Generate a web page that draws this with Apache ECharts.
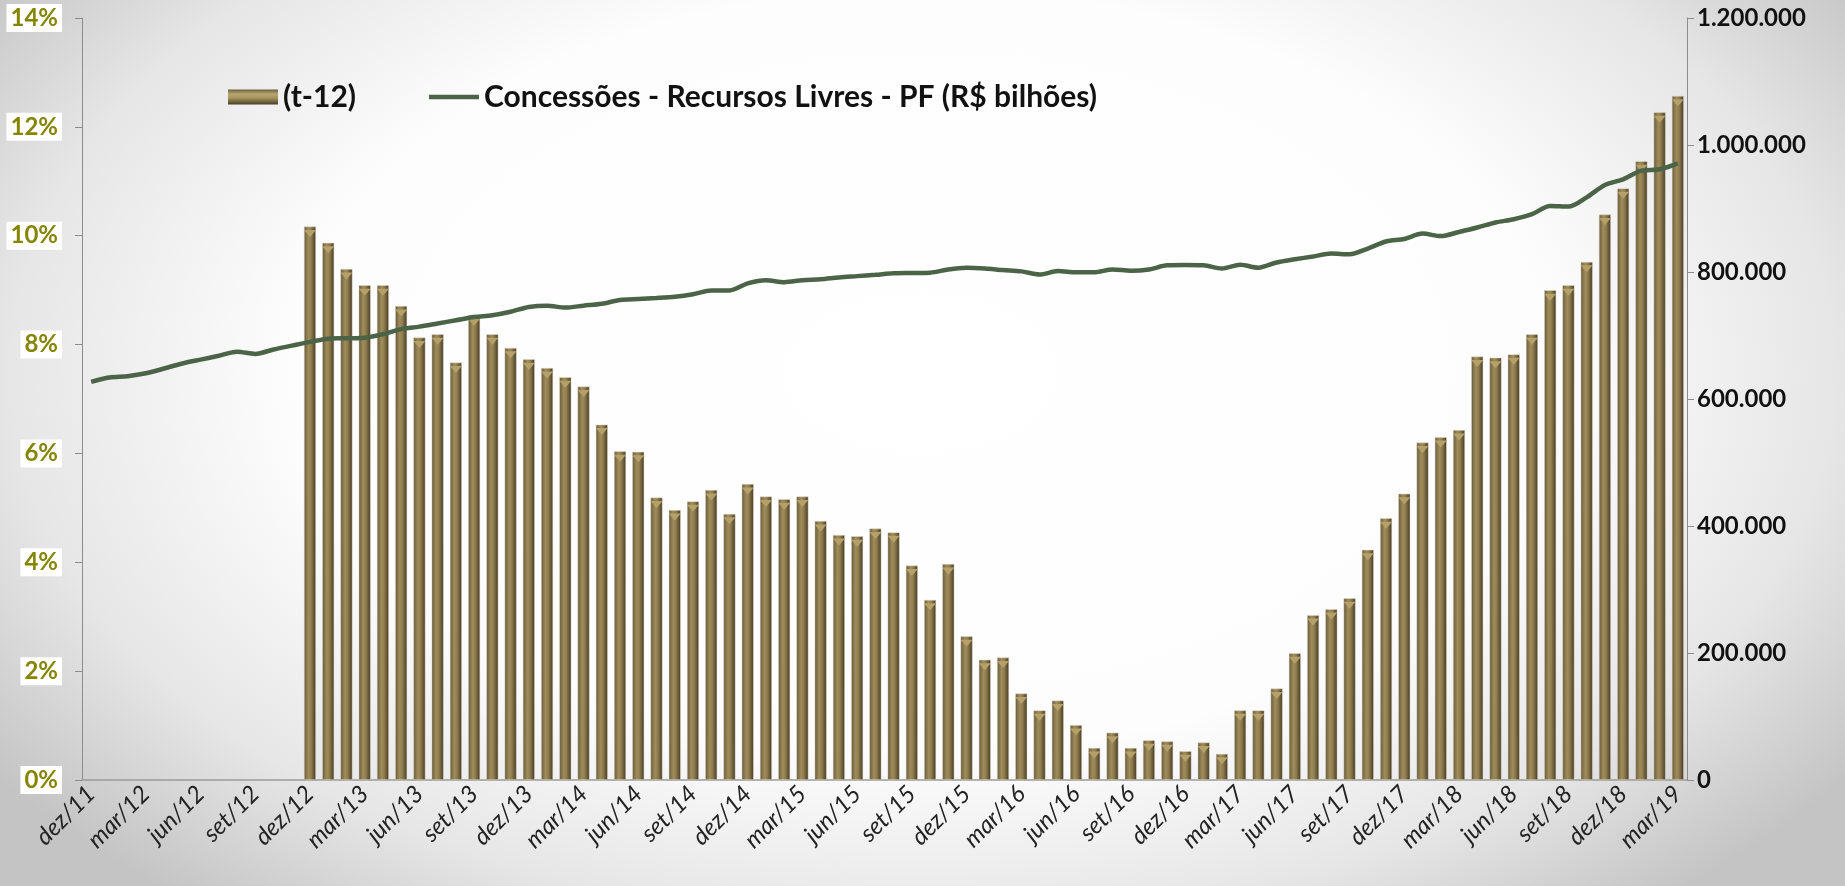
<!DOCTYPE html>
<html>
<head>
<meta charset="utf-8">
<title>Concessões - Recursos Livres - PF</title>
<script src="https://cdn.jsdelivr.net/npm/echarts@6/dist/echarts.min.js"></script>
<style>
  html, body {
    margin: 0;
    padding: 0;
    width: 100%;
    height: 100%;
    overflow: hidden;
  }
  body {
    background: radial-gradient(ellipse 62% 78% at 50% 42%, #ffffff 0%, #fdfdfd 55%, #e6e6e6 80%, #c4c4c4 100%);
  }
  #chart {
    width: 1845px;
    height: 886px;
  }
</style>
</head>
<body>
<div id="chart"></div>
<script>
// months dez/11 .. mar/19
const months = [
  'dez/11',
  'jan/12', 'fev/12', 'mar/12', 'abr/12', 'mai/12', 'jun/12', 'jul/12', 'ago/12', 'set/12', 'out/12', 'nov/12', 'dez/12',
  'jan/13', 'fev/13', 'mar/13', 'abr/13', 'mai/13', 'jun/13', 'jul/13', 'ago/13', 'set/13', 'out/13', 'nov/13', 'dez/13',
  'jan/14', 'fev/14', 'mar/14', 'abr/14', 'mai/14', 'jun/14', 'jul/14', 'ago/14', 'set/14', 'out/14', 'nov/14', 'dez/14',
  'jan/15', 'fev/15', 'mar/15', 'abr/15', 'mai/15', 'jun/15', 'jul/15', 'ago/15', 'set/15', 'out/15', 'nov/15', 'dez/15',
  'jan/16', 'fev/16', 'mar/16', 'abr/16', 'mai/16', 'jun/16', 'jul/16', 'ago/16', 'set/16', 'out/16', 'nov/16', 'dez/16',
  'jan/17', 'fev/17', 'mar/17', 'abr/17', 'mai/17', 'jun/17', 'jul/17', 'ago/17', 'set/17', 'out/17', 'nov/17', 'dez/17',
  'jan/18', 'fev/18', 'mar/18', 'abr/18', 'mai/18', 'jun/18', 'jul/18', 'ago/18', 'set/18', 'out/18', 'nov/18', 'dez/18',
  'jan/19', 'fev/19', 'mar/19'
]

// (t-12) growth, % — no values before dez/12
const growth = [
  null, null, null, null, null, null, null, null, null, null, null, null,
  10.17, 9.87, 9.39, 9.09, 9.09, 8.71, 8.13, 8.19, 7.67, 8.54, 8.19, 7.94,
  7.73, 7.57, 7.40, 7.23, 6.53, 6.04, 6.03, 5.19, 4.96, 5.12, 5.33, 4.89,
  5.44, 5.21, 5.16, 5.21, 4.76, 4.50, 4.48, 4.62, 4.55, 3.94, 3.31, 3.97,
  2.64, 2.21, 2.25, 1.59, 1.28, 1.46, 1.01, 0.59, 0.87, 0.59, 0.73, 0.71,
  0.53, 0.69, 0.48, 1.28, 1.28, 1.68, 2.33, 3.03, 3.14, 3.34, 4.23, 4.81,
  5.26, 6.20, 6.30, 6.43, 7.78, 7.76, 7.82, 8.19, 9.00, 9.09, 9.52, 10.39,
  10.87, 11.37, 12.27, 12.57
]

// Concessões - Recursos Livres - PF
const concessoes = [
  627000,
  634000, 636000, 640500, 648000, 656000, 662000, 668000, 674500, 671000, 678000, 684000, 690000,
  695000, 695600, 696500, 702000, 710000, 714000, 719000, 724000, 729000, 732000, 737500, 745000,
  747000, 744000, 747000, 750000, 756000, 757500, 759000, 761000, 765000, 771000, 771000, 782000,
  787000, 784000, 787000, 788500, 791500, 793500, 795500, 798000, 798500, 799000, 804000, 806500,
  805500, 803000, 801000, 796000, 801500, 799500, 799500, 804000, 802000, 804000, 810500, 811000,
  810500, 805500, 811500, 806800, 815000, 820000, 824500, 829000, 828000, 837000, 848000, 852000,
  860500, 856500, 863000, 870000, 878000, 883000, 891000, 904000, 903000, 917600, 937000, 946000,
  959600, 961700, 971000
]

const barName = '(t-12)'
const lineName = 'Concessões - Recursos Livres - PF (R$ bilhões)'
const fontFamily = 'Lato, "DejaVu Sans", sans-serif'
const lineColor = '#4b6447'

const barColor = new echarts.graphic.LinearGradient(0, 0, 1, 0, [
  { offset: 0, color: '#463c25' },
  { offset: 0.12, color: '#7a6b45' },
  { offset: 0.38, color: '#a08c5b' },
  { offset: 0.6, color: '#8f7d4e' },
  { offset: 0.85, color: '#605234' },
  { offset: 1, color: '#382f1d' }
])

const legendBarColor = new echarts.graphic.LinearGradient(0, 0, 0, 1, [
  { offset: 0, color: '#6c5e3b' },
  { offset: 0.3, color: '#b9a66f' },
  { offset: 0.55, color: '#a8955f' },
  { offset: 1, color: '#4a3f27' }
])

function thousands(v) {
  return String(v).replace(/\B(?=(\d{3})+(?!\d))/g, '.')
}

const chart = echarts.init(document.getElementById('chart'))

const options = {
  backgroundColor: 'transparent',
  animation: false,
  textStyle: { fontFamily: fontFamily },
  legend: {
    left: 223,
    top: 77,
    itemWidth: 50,
    itemHeight: 15,
    itemGap: 73,
    textStyle: {
      fontFamily: fontFamily,
      fontSize: 30,
      fontWeight: 'bold',
      color: '#111'
    },
    data: [
      { name: barName, icon: 'rect', itemStyle: { color: legendBarColor, borderWidth: 0 } },
      { name: lineName, icon: 'path://M0,0H50V4.5H0Z', itemStyle: { color: lineColor } }
    ]
  },
  grid: {
    left: 82,
    right: 158,
    top: 18,
    bottom: 106
  },
  xAxis: {
    type: 'category',
    data: months,
    boundaryGap: true,
    axisLine: { lineStyle: { color: '#9a9a9a', width: 1.5 } },
    axisTick: { show: false },
    axisLabel: {
      interval: 2,
      rotate: 45,
      margin: 10,
      fontSize: 24,
      fontStyle: 'italic',
      color: '#222',
      fontFamily: fontFamily
    },
    splitLine: { show: false }
  },
  yAxis: [
    {
      type: 'value',
      min: 0,
      max: 14,
      interval: 2,
      axisLine: { show: true, lineStyle: { color: '#8c8c8c' } },
      axisTick: { show: true, length: 7, lineStyle: { color: '#8c8c8c' } },
      splitLine: { show: false },
      axisLabel: {
        formatter: '{value}%',
        fontSize: 24,
        fontWeight: 'bold',
        color: '#858500',
        backgroundColor: '#ffffff',
        padding: [3, 4, 1, 4],
        margin: 20
      }
    },
    {
      type: 'value',
      min: 0,
      max: 1200000,
      interval: 200000,
      axisLine: { show: true, lineStyle: { color: '#8c8c8c' } },
      axisTick: { show: true, length: 7, lineStyle: { color: '#8c8c8c' } },
      splitLine: { show: false },
      axisLabel: {
        formatter: thousands,
        fontSize: 24,
        fontWeight: 'bold',
        color: '#111',
        margin: 10
      }
    }
  ],
  series: [
    {
      name: barName,
      type: 'bar',
      data: growth,
      barWidth: 12,
      itemStyle: {
        color: barColor,
        borderColor: 'rgba(225, 218, 200, 0.9)',
        borderWidth: 0.6
      },
      z: 2
    },
    {
      name: 'bevel',
      type: 'pictorialBar',
      data: growth,
      symbol: 'triangle',
      symbolRotate: 180,
      symbolPosition: 'end',
      symbolSize: [12, 7],
      symbolOffset: [0, '50%'],
      barWidth: 12,
      barGap: '-100%',
      itemStyle: { color: '#b5a06a' },
      silent: true,
      z: 3
    },
    {
      name: lineName,
      type: 'line',
      yAxisIndex: 1,
      data: concessoes,
      smooth: 0.3,
      showSymbol: false,
      symbol: 'none',
      lineStyle: { color: lineColor, width: 4.5 },
      itemStyle: { color: lineColor },
      z: 5
    }
  ]
}

chart.setOption(options, true)
</script>
</body>
</html>
